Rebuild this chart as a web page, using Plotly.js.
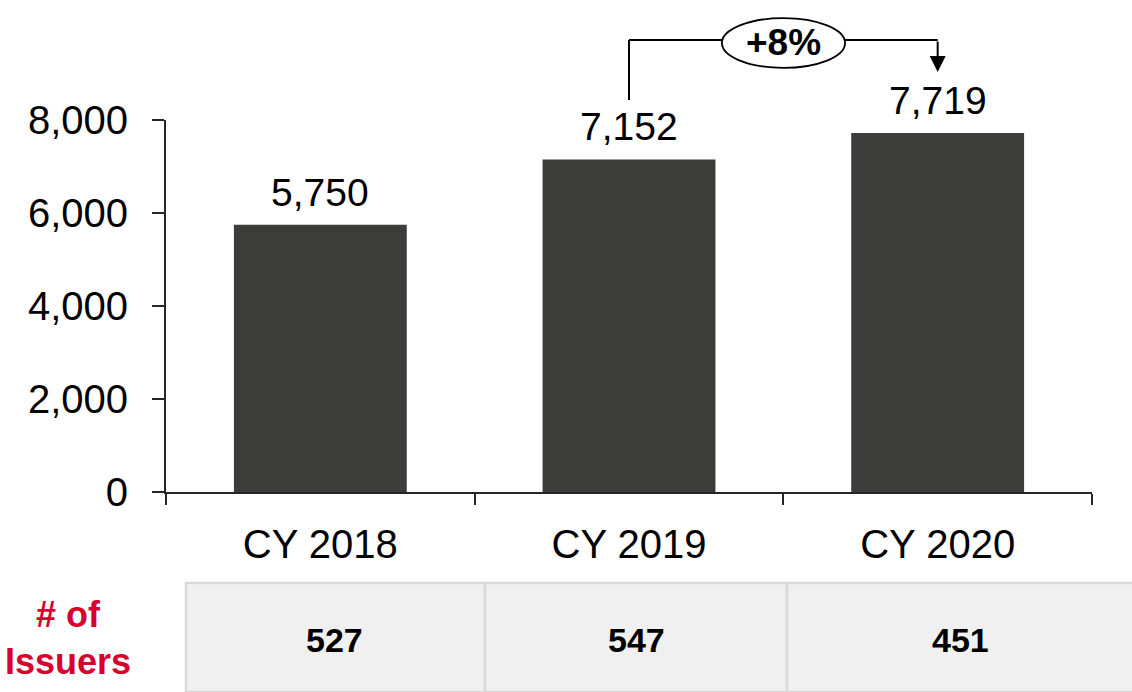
<!DOCTYPE html>
<html>
<head>
<meta charset="utf-8">
<script src="https://cdn.plot.ly/plotly-3.0.1.min.js"></script>
<style>html,body{margin:0;padding:0;background:#fff;}#chart{width:1132px;height:692px;}</style>
</head>
<body>
<div id="chart"></div>
<script>
const categories = ["CY 2018", "CY 2019", "CY 2020"];
const volumes = [5750, 7152, 7719];
const issuers = [527, 547, 451];
const yTicks = [0, 2000, 4000, 6000, 8000];
const growthLabel = "+8%";
const rowLabel = "# of<br>Issuers";

const FONT = "Arial, 'Liberation Sans', sans-serif";

const trace = {
  type: "bar",
  x: categories,
  y: volumes,
  marker: {color: "#3c3c3b"},
  cliponaxis: false,
  hoverinfo: "skip"
};

// table geometry (paper coords)
const tblTop = -0.2446, tblBot = -0.5376;
const colEdges = [0.0216, 0.3445, 0.6706, 1.05];
const cellCenters = [0.1825, 0.5076, 0.8575];
const shapes = [];
for (let i = 0; i < 3; i++) {
  shapes.push({type: "rect", xref: "paper", yref: "paper",
    x0: colEdges[i], x1: colEdges[i + 1], y0: tblBot, y1: tblTop,
    fillcolor: "#f0f0f0", line: {color: "#d9d9d9", width: 2.5}, layer: "below"});
}
// growth bracket
const bracketY = 1.215;
shapes.push({type: "line", xref: "x", yref: "paper", x0: 1, x1: 1, y0: 1.054, y1: bracketY, line: {color: "#000", width: 2}});
shapes.push({type: "line", xref: "x", yref: "paper", x0: 1, x1: 2, y0: bracketY, y1: bracketY, line: {color: "#000", width: 2}});
shapes.push({type: "circle", xref: "x", yref: "paper", x0: 1.301, x1: 1.700, y0: 1.140, y1: 1.274,
  fillcolor: "#fff", line: {color: "#000", width: 1.8}});

const annotations = [];
// value labels above bars
categories.forEach((c, i) => {
  annotations.push({xref: "x", yref: "y", x: c, y: volumes[i], xanchor: "center", yanchor: "bottom",
    yshift: 9, text: volumes[i].toLocaleString("en-US"), showarrow: false,
    font: {family: FONT, size: 39, color: "#000"}});
});
issuers.forEach((n, i) => {
  annotations.push({xref: "paper", yref: "paper", x: cellCenters[i], y: -0.398,
    xanchor: "center", yanchor: "middle", text: "<b>" + n + "</b>", showarrow: false,
    font: {family: FONT, size: 34, color: "#000"}});
});
annotations.push({xref: "paper", yref: "paper", x: -0.1058, y: -0.392, xanchor: "center", yanchor: "middle",
  text: "<b>" + rowLabel + "</b>", showarrow: false, align: "center",
  font: {family: FONT, size: 36, color: "#d7002f"}});
annotations.push({xref: "x", yref: "paper", x: 1.5, y: 1.207, xanchor: "center", yanchor: "middle",
  text: "<b>" + growthLabel + "</b>", showarrow: false, font: {family: FONT, size: 37, color: "#000"}});
annotations.push({xref: "x", yref: "paper", x: 2, y: 1.129, text: "", showarrow: true,
  arrowhead: 2, arrowsize: 1.6, arrowwidth: 2, arrowcolor: "#000", ax: 0, ay: -32, standoff: 0});

const layout = {
  width: 1132, height: 692,
  margin: {l: 166, r: 40, t: 120, b: 200},
  paper_bgcolor: "#fff", plot_bgcolor: "#fff",
  showlegend: false,
  bargap: 0.44,
  font: {family: FONT, color: "#000"},
  xaxis: {type: "category", showline: true, linecolor: "#262626", linewidth: 2,
    ticks: "outside", tickson: "boundaries", ticklen: 11, tickwidth: 2, tickcolor: "#262626",
    tickfont: {family: FONT, size: 40, color: "#000"}, showgrid: false, zeroline: false, fixedrange: true,
    ticklabelstandoff: 16},
  yaxis: {range: [0, 8000], tickvals: yTicks, ticktext: yTicks.map(v => v.toLocaleString("en-US")),
    showline: true, linecolor: "#262626", linewidth: 2, ticks: "outside", ticklen: 12, tickwidth: 2,
    tickcolor: "#262626", tickfont: {family: FONT, size: 40, color: "#000"}, showgrid: false,
    zeroline: false, fixedrange: true, ticklabelstandoff: 16},
  shapes: shapes,
  annotations: annotations
};

Plotly.newPlot("chart", [trace], layout, {displayModeBar: false, staticPlot: true});
</script>
</body>
</html>
